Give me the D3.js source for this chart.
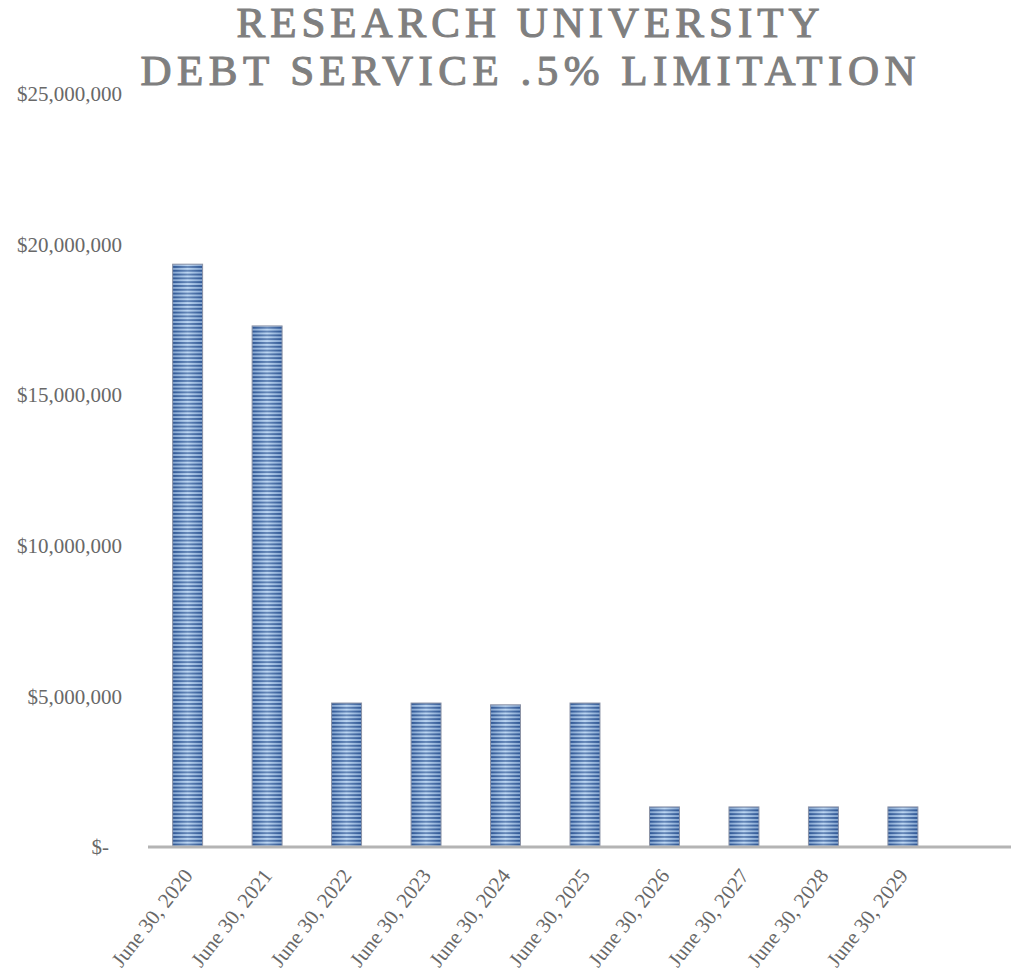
<!DOCTYPE html>
<html>
<head>
<meta charset="utf-8">
<script src="https://cdn.jsdelivr.net/npm/d3@7"></script>
<style>
  body { margin: 0; background: #ffffff; }
  svg { display: block; }
</style>
</head>
<body>
<svg id="chart" width="1011" height="979"></svg>
<script>
// chart data
var titleLines = ["RESEARCH UNIVERSITY", "DEBT SERVICE .5% LIMITATION"];
var categories = ["June 30, 2020", "June 30, 2021", "June 30, 2022", "June 30, 2023",
                  "June 30, 2024", "June 30, 2025", "June 30, 2026", "June 30, 2027",
                  "June 30, 2028", "June 30, 2029", ""];
var debtService = [19350000, 17300000, 4780000, 4780000, 4720000, 4780000,
                   1330000, 1330000, 1330000, 1330000, null];
var yTicks = [0, 5000000, 10000000, 15000000, 20000000, 25000000];

var svg = d3.select("#chart");
var chartW = 1011;
var plotLeft = 148, plotRight = 1022, plotTop = 94, plotBottom = 847;

var x = d3.scaleBand()
    .domain(categories)
    .range([plotLeft, plotRight])
    .paddingInner(0.623)
    .paddingOuter(0.31);

var y = d3.scaleLinear()
    .domain([0, 25000000])
    .range([plotBottom, plotTop]);

// striped fill like the excel texture
var defs = svg.append("defs");
var pat = defs.append("pattern")
    .attr("id", "stripes")
    .attr("patternUnits", "userSpaceOnUse")
    .attr("width", 8)
    .attr("height", 3.8);
pat.append("rect")
    .attr("width", 8).attr("height", 3.8)
    .attr("fill", "#a9c9ec");
pat.append("rect")
    .attr("y", 0).attr("width", 8).attr("height", 1.9)
    .attr("fill", "#2f5a9a");

var grad = defs.append("linearGradient")
    .attr("id", "shine")
    .attr("x1", "0%").attr("x2", "100%")
    .attr("y1", "0%").attr("y2", "0%");
grad.append("stop").attr("offset", "0%").attr("stop-color", "#2a4c88").attr("stop-opacity", 0.3);
grad.append("stop").attr("offset", "50%").attr("stop-color", "#e8f4ff").attr("stop-opacity", 0.3);
grad.append("stop").attr("offset", "100%").attr("stop-color", "#2a4c88").attr("stop-opacity", 0.3);

// title
svg.append("g")
    .selectAll("text")
    .data(titleLines)
    .enter().append("text")
    .attr("x", 528)
    .attr("y", function(d, i) { return 37 + i * 48; })
    .attr("text-anchor", "middle")
    .attr("font-family", "Liberation Serif, serif")
    .attr("font-size", 43)
    .attr("fill", "#7f7f7f")
    .attr("stroke", "#7f7f7f")
    .attr("stroke-width", 1.1)
    .attr("textLength", function(d, i) { return i === 0 ? 583 : 775; })
    .attr("lengthAdjust", "spacing")
    .text(function(d) { return d; });

// y axis labels
var yAxis = svg.append("g")
    .attr("transform", "translate(122,0)")
    .call(d3.axisLeft(y)
        .tickValues(yTicks)
        .tickSize(0)
        .tickPadding(0)
        .tickFormat(function(d) { return d === 0 ? "$-" : "$" + d3.format(",")(d); }));
yAxis.select(".domain").remove();
yAxis.selectAll("text")
    .attr("font-family", "Liberation Serif, serif")
    .attr("font-size", 21)
    .attr("fill", "#686868")
    .attr("dx", function(d) { return d === 0 ? -13 : 0; });

// bars
var bars = svg.append("g")
    .selectAll("g")
    .data(categories.map(function(c, i) { return { cat: c, val: debtService[i] }; })
        .filter(function(d) { return d.val !== null; }))
    .enter().append("g");

bars.append("rect")
    .attr("x", function(d) { return x(d.cat); })
    .attr("y", function(d) { return y(d.val); })
    .attr("width", x.bandwidth())
    .attr("height", function(d) { return y(0) - y(d.val); })
    .attr("fill", "url(#stripes)");

bars.append("rect")
    .attr("x", function(d) { return x(d.cat); })
    .attr("y", function(d) { return y(d.val); })
    .attr("width", x.bandwidth())
    .attr("height", function(d) { return y(0) - y(d.val); })
    .attr("fill", "url(#shine)")
    .attr("stroke", "#8c93a6")
    .attr("stroke-width", 1);

// category axis line
svg.append("line")
    .attr("x1", plotLeft)
    .attr("x2", chartW)
    .attr("y1", y(0))
    .attr("y2", y(0))
    .style("stroke", "#b4b4b4")
    .style("stroke-width", 3);

// x axis labels
var xAxis = svg.append("g")
    .attr("transform", "translate(0," + (y(0) + 2) + ")")
    .call(d3.axisBottom(x).tickSize(0).tickPadding(0));
xAxis.select(".domain").remove();
xAxis.selectAll("text")
    .attr("font-family", "Liberation Serif, serif")
    .attr("font-size", 21)
    .attr("fill", "#686868")
    .attr("text-anchor", "end")
    .attr("dy", 0)
    .attr("transform", "translate(6,27) rotate(-52)");
</script>
</body>
</html>
